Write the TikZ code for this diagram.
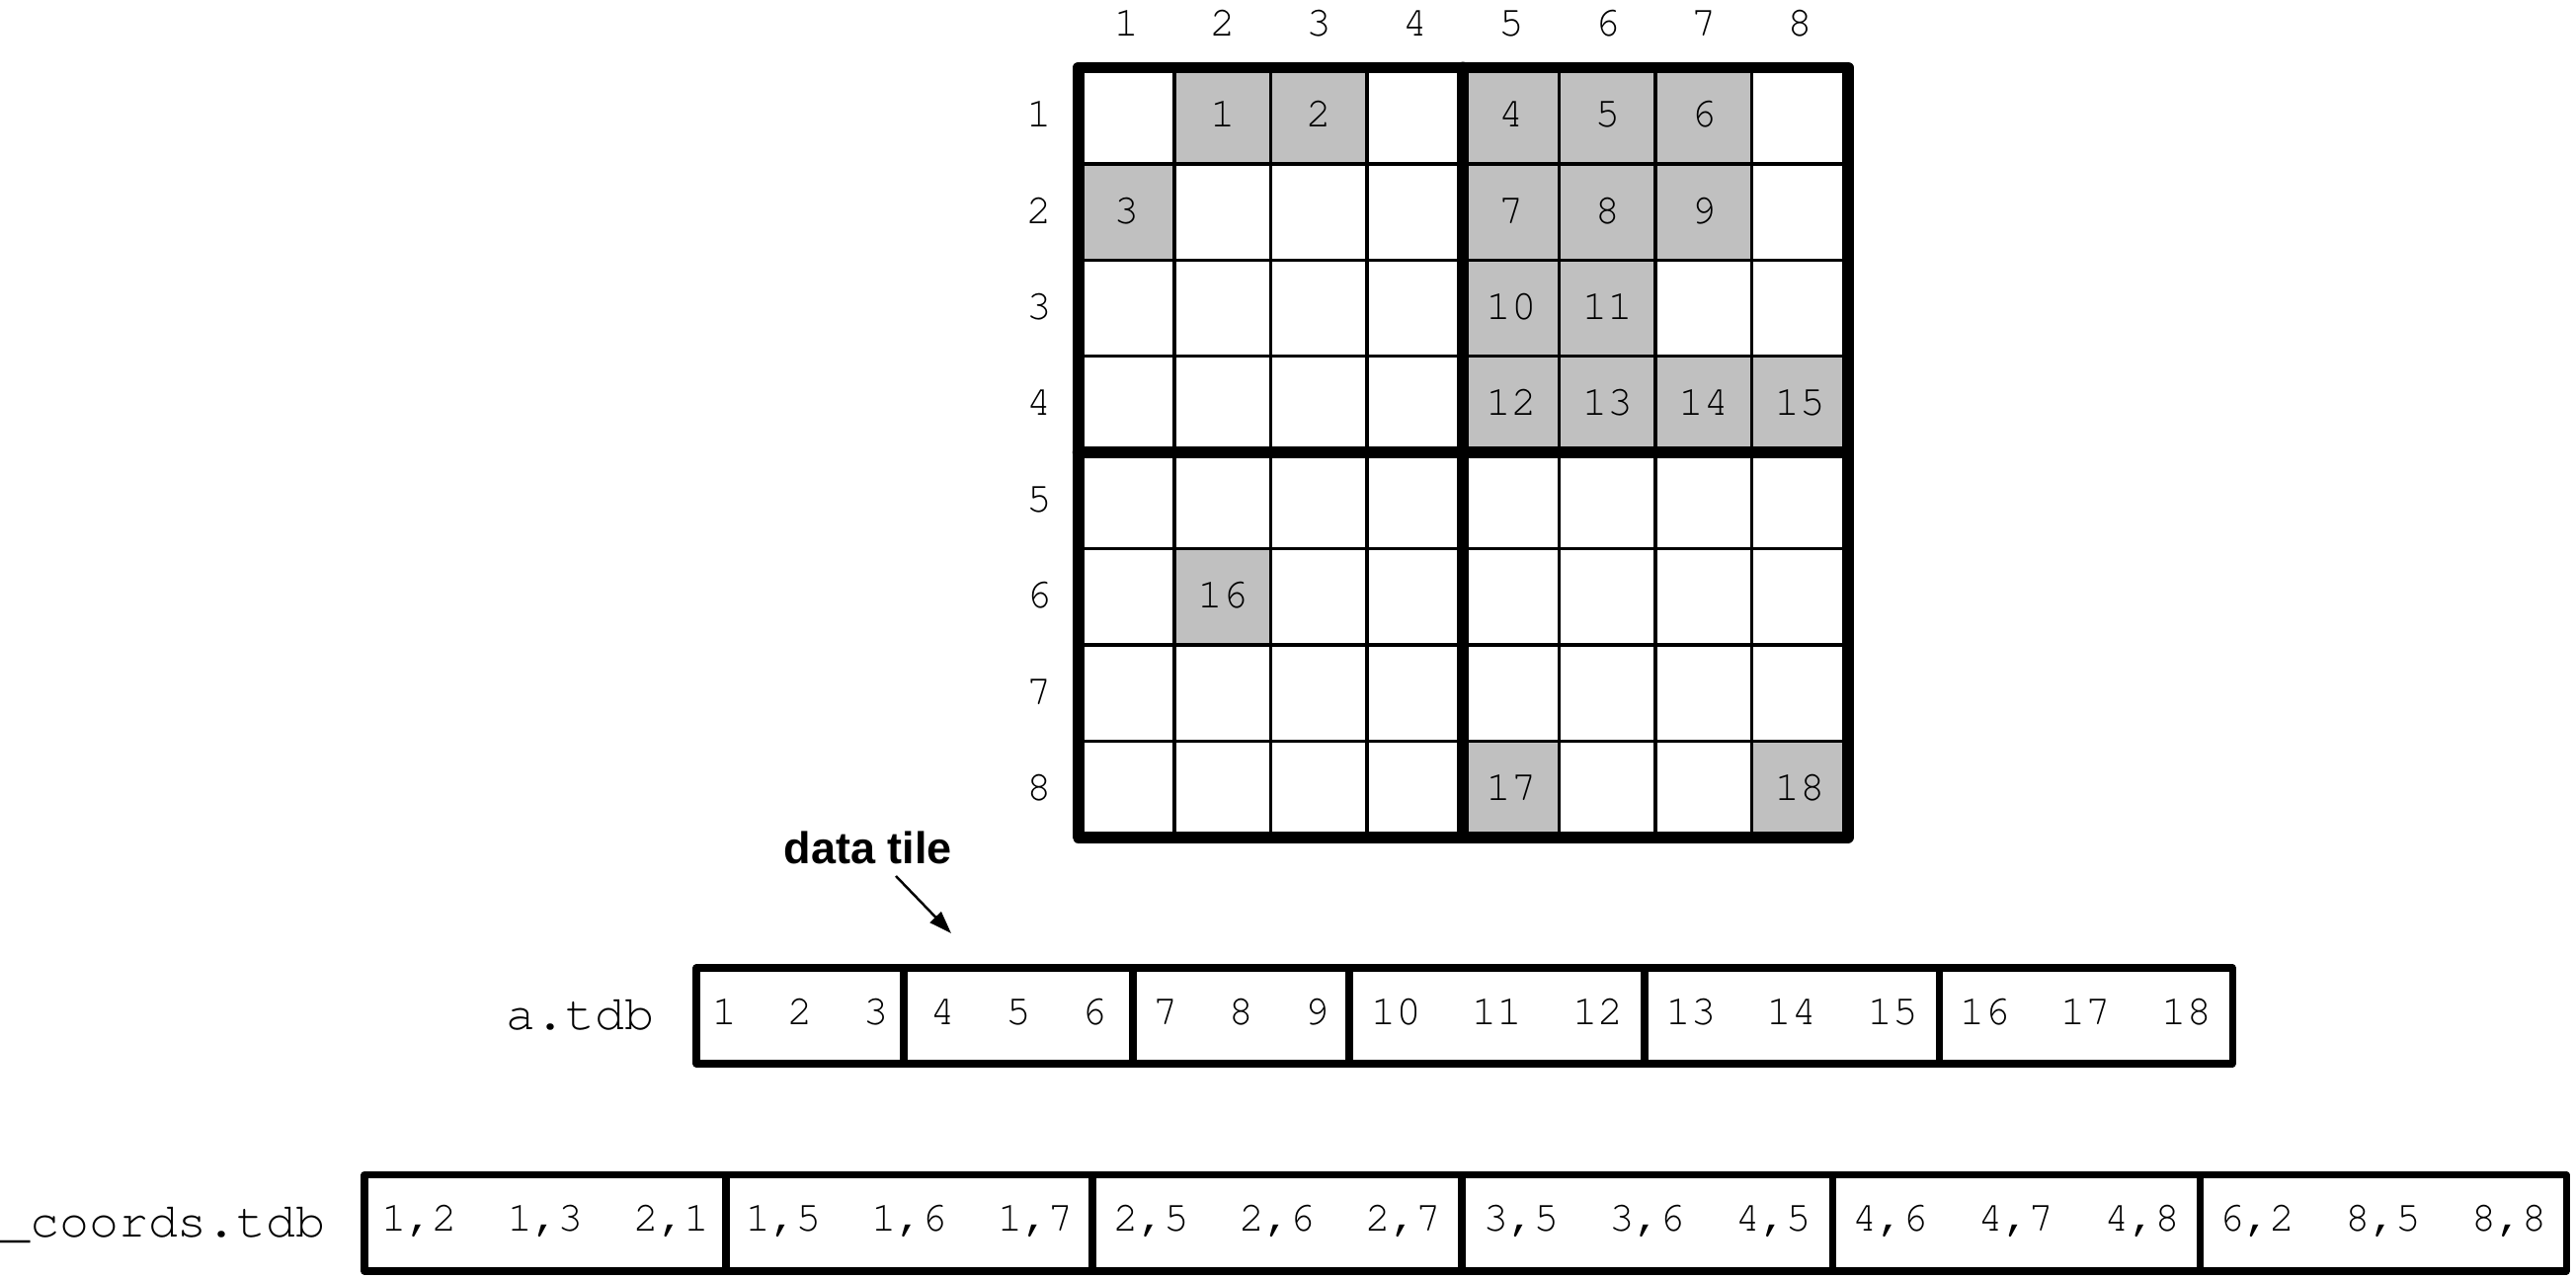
\documentclass[tikz,border=0pt]{standalone}
\usepackage[T1,TU]{fontenc}
\usepackage{fontspec}
\usetikzlibrary{arrows.meta}
\newfontfamily\helv{Liberation Sans}
\newcommand\numfont{\fontencoding{T1}\fontfamily{pcr}\fontseries{m}\fontshape{n}\fontsize{12.1}{14}\selectfont}
\newcommand\labfont{\fontencoding{T1}\fontfamily{pcr}\fontseries{m}\fontshape{n}\fontsize{14.2}{16}\selectfont}
\definecolor{cellgray}{RGB}{192,192,192}
\begin{document}
\begin{tikzpicture}[x=0.01cm,y=-0.01cm,
  thickln/.style={line width=3.4pt, line join=round, line cap=round},
  thinln/.style={line width=1pt},
  boxln/.style={line width=2pt, line join=round},
  num/.style={font=\numfont, inner sep=0pt, anchor=base},
  lab/.style={font=\labfont, inner sep=0pt, anchor=base},
  ttl/.style={font=\helv\bfseries\fontsize{12.8}{15}\selectfont, inner sep=0pt, anchor=base},
  pointer/.style={line width=0.7pt, -{Triangle[length=6.5pt,width=4.4pt]}}
]
\useasboundingbox (0,0) rectangle (2608,1295);
\def\gx{1091.7}\def\gy{68.5}\def\cs{97.4}
% gray cells
\foreach \r/\c/\n in {1/2/1,1/3/2,2/1/3,1/5/4,1/6/5,1/7/6,2/5/7,2/6/8,2/7/9,3/5/10,3/6/11,4/5/12,4/6/13,4/7/14,4/8/15,6/2/16,8/5/17,8/8/18}{
  \fill[cellgray] ({\gx+(\c-1)*\cs},{\gy+(\r-1)*\cs}) rectangle +(\cs,\cs);
  \node[num] (g\n) at ({\gx+(\c-0.5)*\cs},{\gy+(\r-0.5)*\cs+11.5}) {\n};
}
% thin grid lines
\foreach \i in {1,2,3,5,6,7}{
  \draw[thinln] ({\gx+\i*\cs},\gy) -- ({\gx+\i*\cs},{\gy+8*\cs});
  \draw[thinln] (\gx,{\gy+\i*\cs}) -- ({\gx+8*\cs},{\gy+\i*\cs});
}
% thick lines
\draw[thickln] ({\gx+4*\cs},\gy) -- ({\gx+4*\cs},{\gy+8*\cs});
\draw[thickln] (\gx,{\gy+4*\cs}) -- ({\gx+8*\cs},{\gy+4*\cs});
\draw[thickln] (\gx,\gy) rectangle ({\gx+8*\cs},{\gy+8*\cs});
% axis labels
\foreach \c in {1,...,8}{
  \node[num] (col\c) at ({\gx+(\c-0.5)*\cs},37) {\c};
  \node[num] (row\c) at (1052,{\gy+(\c-0.5)*\cs+11.5}) {\c};
}
% a.tdb
\node[lab] (alab) at (587.5,1043) {a.tdb};
\foreach \a/\b/\t [count=\k] in {705/915/{1~~2~~3},915/1147/{4~~5~~6},1147/1366/{7~~8~~9},1366/1665/{10~~11~~12},1665/1963/{13~~14~~15},1963/2260/{16~~17~~18}}{
  \draw[boxln] (\a,980) rectangle (\b,1077);
  \node[num] (at\k) at ({(\a+\b)/2},1038) {\t};
}
% coords
\node[lab] (clab) at (165,1253) {\_coords.tdb};
\foreach \a/\b/\t [count=\k] in {369/735/{1,2~~1,3~~2,1},735/1106/{1,5~~1,6~~1,7},1106/1480/{2,5~~2,6~~2,7},1480/1855/{3,5~~3,6~~4,5},1855/2227/{4,6~~4,7~~4,8},2227/2598/{6,2~~8,5~~8,8}}{
  \draw[boxln] (\a,1189.5) rectangle (\b,1287);
  \node[num] (ct\k) at ({(\a+\b)/2},1247) {\t};
}
% data tile
\node[ttl] (dt) at (879,875) {data tile};
\coordinate (arrS) at (907,887);
\coordinate (arrE) at (963,945);
\draw[pointer] (arrS) -- (arrE);
\end{tikzpicture}
\end{document}
